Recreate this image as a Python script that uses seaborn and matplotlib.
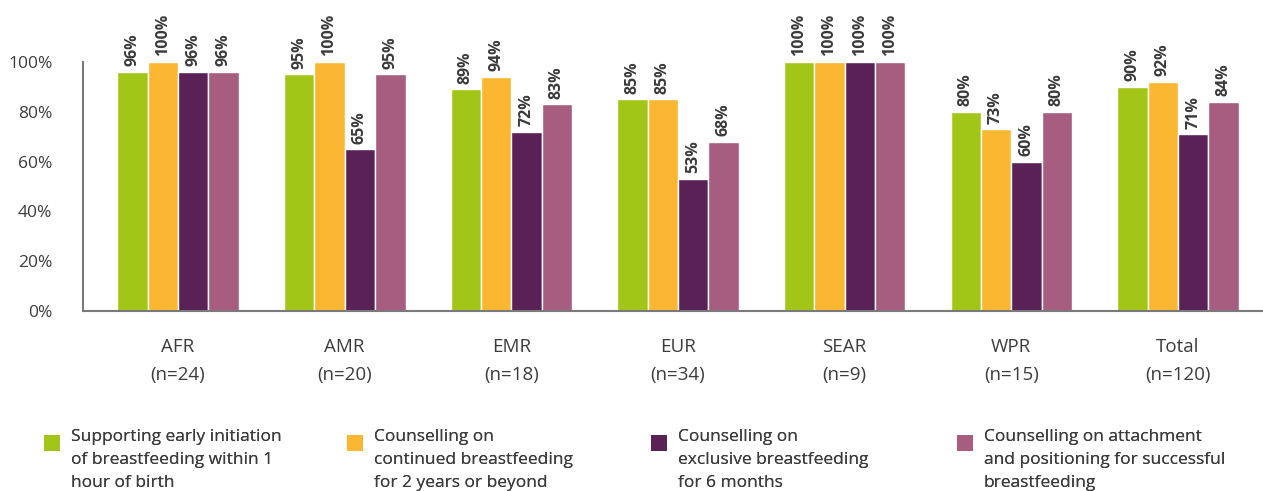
import matplotlib
matplotlib.use("Agg")
import matplotlib.pyplot as plt
import seaborn as sns
import pandas as pd
from matplotlib.patches import Patch, Rectangle
from matplotlib.legend_handler import HandlerPatch

regions = ["AFR\n(n=24)", "AMR\n(n=20)", "EMR\n(n=18)", "EUR\n(n=34)",
           "SEAR\n(n=9)", "WPR\n(n=15)", "Total\n(n=120)"]
series_names = [
    "Supporting early initiation\nof breastfeeding within 1\nhour of birth",
    "Counselling on\ncontinued breastfeeding\nfor 2 years or beyond",
    "Counselling on\nexclusive breastfeeding\nfor 6 months",
    "Counselling on attachment\nand positioning for successful\nbreastfeeding",
]
early_initiation = [96, 95, 89, 85, 100, 80, 90]
continued_bf = [100, 100, 94, 85, 100, 73, 92]
exclusive_bf = [96, 65, 72, 53, 100, 60, 71]
attachment = [96, 95, 83, 68, 100, 80, 84]
colors = ["#A2C617", "#FBB731", "#5A2157", "#A65D80"]
yticks = [0, 20, 40, 60, 80, 100]

sns.set_theme(style="white")
plt.rcParams["font.family"] = ["Open Sans", "DejaVu Sans"]

rows = []
for name, vals in zip(series_names, [early_initiation, continued_bf, exclusive_bf, attachment]):
    for r, v in zip(regions, vals):
        rows.append({"region": r, "series": name, "value": v})
df = pd.DataFrame(rows)

fig = plt.figure(figsize=(12.63, 4.91), dpi=100)
ax = fig.add_axes([83 / 1263, 1 - 311 / 491, 1 - 83 / 1263, (311 - 62) / 491])

sns.barplot(data=df, x="region", y="value", hue="series", order=regions,
            hue_order=series_names, palette=colors, width=0.73, gap=0,
            saturation=1, ax=ax, legend=False, errorbar=None)

for cont in ax.containers:
    ax.bar_label(cont, labels=[f"{int(round(b.get_height()))}%" for b in cont],
                 rotation=90, padding=4, fontsize=11.5, fontweight="bold",
                 color="#3a3a3a")

ax.set_ylim(0, 100)
ax.set_xlim(-0.57, 6.51)
ax.set_yticks(yticks)
ax.set_yticklabels([f"{t}%" for t in yticks])
ax.set_xlabel("")
ax.set_ylabel("")
ax.tick_params(axis="y", length=0, pad=22, labelsize=12.5, labelcolor="#3c3c3c")
ax.tick_params(axis="x", length=0, pad=19.5, labelsize=13.5, labelcolor="#3c3c3c")
for lab in ax.get_xticklabels():
    lab.set_linespacing(1.68)
for s in ["top", "right"]:
    ax.spines[s].set_visible(False)
for s in ["left", "bottom"]:
    ax.spines[s].set_color("#7a7a7a")
    ax.spines[s].set_linewidth(1.5)


def top_square(legend, orig_handle, xdescent, ydescent, width, height, fontsize):
    side = 0.95 * fontsize
    return Rectangle((-xdescent, -ydescent + height - side), side, side)


legend_x = [44, 347, 651, 957]
for i, (name, c) in enumerate(zip(series_names, colors)):
    h = Patch(facecolor=c, edgecolor="none")
    leg = fig.legend(handles=[h], labels=[name], loc="upper left",
                     bbox_to_anchor=(legend_x[i] / 1263, 1 - 429 / 491),
                     frameon=False, fontsize=12.5, handlelength=1.0,
                     handleheight=4.35, handletextpad=0.55, borderpad=0,
                     borderaxespad=0,
                     handler_map={Patch: HandlerPatch(patch_func=top_square)},
                     labelcolor="#3c3c3c")
    for t in leg.get_texts():
        t.set_linespacing(1.58)
    fig.add_artist(leg)

fig.savefig("out.png", dpi=100)
